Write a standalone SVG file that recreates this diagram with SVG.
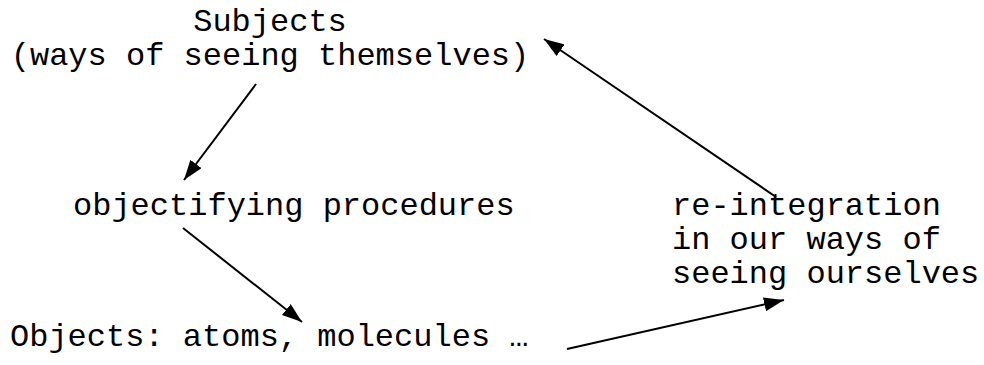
<svg xmlns="http://www.w3.org/2000/svg" width="984" height="365" viewBox="0 0 984 365">
<style>
text{font-family:"Liberation Mono","Courier New",monospace;font-size:32px;fill:#000}
.c line{stroke:#000;stroke-width:2;marker-end:url(#ah)}
</style>
<defs>
<marker id="ah" markerWidth="20" markerHeight="14" refX="20" refY="7" orient="auto" markerUnits="userSpaceOnUse">
<path d="M0,0 L20,7 L0,14 z" fill="#000"/>
</marker>
</defs>
<rect width="984" height="365" fill="#fff"/>
<g id="subjects">
<text x="270" y="31" text-anchor="middle">Subjects</text>
<text x="270" y="65" text-anchor="middle">(ways of seeing themselves)</text>
</g>
<g id="procedures">
<text x="73" y="215">objectifying procedures</text>
</g>
<g id="objects">
<text x="10" y="346">Objects: atoms, molecules …</text>
</g>
<g id="reintegration">
<text x="672" y="215">re-integration</text>
<text x="672" y="249">in our ways of</text>
<text x="672" y="283">seeing ourselves</text>
</g>
<g class="c" id="connectors">
<line x1="256" y1="84" x2="184" y2="180"/>
<line x1="183" y1="228" x2="302" y2="322"/>
<line x1="567" y1="349" x2="784" y2="300"/>
<line x1="776" y1="197" x2="544" y2="39"/>
</g>
</svg>
